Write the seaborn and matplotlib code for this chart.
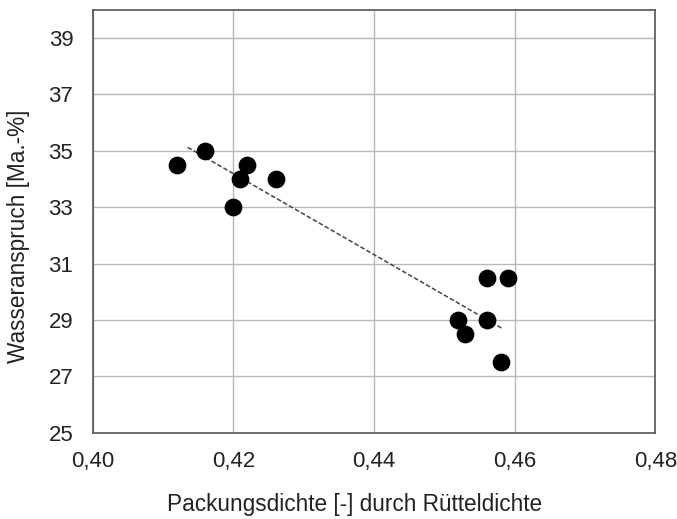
import numpy as np
import pandas as pd
import seaborn as sns
import matplotlib
matplotlib.use("Agg")
import matplotlib.pyplot as plt
from matplotlib.ticker import FuncFormatter

packungsdichte = [0.412, 0.416, 0.421, 0.422, 0.426, 0.420, 0.452, 0.453, 0.456, 0.456, 0.459, 0.458]
wasseranspruch = [34.5, 35.0, 34.0, 34.5, 34.0, 33.0, 29.0, 28.5, 30.5, 29.0, 30.5, 27.5]
trend_x_range = [0.4135, 0.4582]
x_ticks = [0.40, 0.42, 0.44, 0.46, 0.48]
y_ticks = [25, 27, 29, 31, 33, 35, 37, 39]

df = pd.DataFrame({"x": packungsdichte, "y": wasseranspruch})

sns.set_style("white")
plt.rcParams["font.family"] = ["Liberation Sans", "DejaVu Sans"]

fig = plt.figure(figsize=(6.77, 5.19), dpi=100)
ax = fig.add_axes([0.137, 0.166, 0.831, 0.815])

sns.scatterplot(data=df, x="x", y="y", ax=ax, color="black", s=140, edgecolor="black", zorder=3)

# trend line (reduced major axis fit through the data means)
r = np.corrcoef(df["x"], df["y"])[0, 1]
slope = np.sign(r) * df["y"].std() / df["x"].std()
icpt = df["y"].mean() - slope * df["x"].mean()
xl = np.linspace(trend_x_range[0], trend_x_range[1], 50)
ax.plot(xl, icpt + slope * xl, ls=(0, (3, 1.5)), color="#444444", lw=1.1, zorder=2)

ax.set_xlim(0.40, 0.48)
ax.set_ylim(25, 40)
ax.set_xticks(x_ticks)
ax.set_yticks(y_ticks)
ax.xaxis.set_major_formatter(FuncFormatter(lambda v, p: f"{v:.2f}".replace(".", ",")))
ax.grid(True, color="#b8b8b8", lw=1)
ax.set_axisbelow(True)
for s in ax.spines.values():
    s.set_color("#555555")
    s.set_linewidth(1.2)
ax.tick_params(length=0, labelsize=16, colors="#222222")
ax.tick_params(axis="y", pad=14)
ax.tick_params(axis="x", pad=13)
ax.set_xlabel("Packungsdichte [-] durch Rütteldichte", fontsize=16.3, color="#222222")
ax.set_ylabel("Wasseranspruch [Ma.-%]", fontsize=16.3, color="#222222")
ax.xaxis.set_label_coords(0.466, -0.142)
ax.yaxis.set_label_coords(-0.112, 0.465)

fig.savefig("out.png", dpi=100)
